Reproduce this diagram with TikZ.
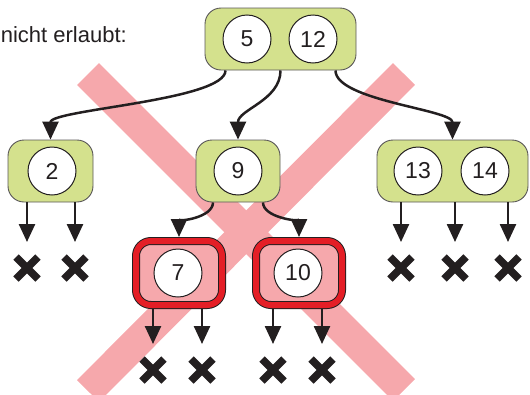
\documentclass[tikz,border=0pt]{standalone}
\usepackage{fontspec}
\setmainfont{Liberation Sans}
\usepackage{xcolor}
\usepackage{tikz}
\usetikzlibrary{
	arrows.meta,    % Pfeilspitzen (Triangle)
	shapes.misc     % fuer die Kreuze (cross out)
}

\definecolor{blattgruen}{RGB}{212,225,141}
\definecolor{kreuzrosa}{RGB}{246,168,172}
\definecolor{signalrot}{RGB}{228,30,38}
\definecolor{dunkel}{RGB}{35,31,32}

\begin{document}
\begin{tikzpicture}[x=1pt, y=-1pt, >={Triangle[length=18pt 0 0,width=16pt 0 0]},
	knoten/.style={draw=dunkel!75, line width=0.9pt, fill=blattgruen, rounded corners=16pt, inner sep=0pt, minimum height=62pt},
	rotknoten/.style={draw=dunkel, line width=1pt, double=signalrot, double distance=6pt, fill=kreuzrosa, rounded corners=15pt, inner sep=0pt, outer sep=4pt, minimum width=86pt, minimum height=64pt},
	kreis/.style={circle, draw=dunkel, line width=1pt, fill=white, text=dunkel, minimum size=48pt, inner sep=0pt, font=\fontsize{23}{27}\selectfont},
	pfeil/.style={->, line width=2.5pt, draw=dunkel},
	leer/.style={cross out, draw=dunkel, line width=7.5pt, minimum size=22pt, inner sep=0pt, outer sep=0pt},
	verbot/.style={line width=31pt, draw=kreuzrosa}]
		\useasboundingbox (0,0) rectangle (530,394);
		
		% --- Grosses Kreuz im Hintergrund ---
		\coordinate (kreuzA) at (88,74);
		\coordinate (kreuzB) at (404,390);
		\coordinate (kreuzC) at (404,74);
		\coordinate (kreuzD) at (88,391);
		\draw[verbot] (kreuzA) -- (kreuzB);
		\draw[verbot] (kreuzC) -- (kreuzD);
		
		% --- Beschriftung ---
		\node[anchor=base east, inner sep=0pt, text=dunkel, font=\fontsize{22}{26}\selectfont] (hinweis) at (127,42) {nicht erlaubt:};
		
		% --- Knoten ---
		% Wurzel mit zwei Schluesseln
		\node[knoten, minimum width=151pt] (wurzel) at (280.5,39) {};
		\node[kreis] (k5) at (247,39) {5};
		\node[kreis] (k12) at (313,39) {12};
		% Zweite Ebene
		\node[knoten, minimum width=85pt] (links) at (50.5,171) {};
		\node[kreis] (k2) at (52,171) {2};
		\node[knoten, minimum width=84pt] (mitte) at (238,171) {};
		\node[kreis] (k9) at (238,171) {9};
		\node[knoten, minimum width=151pt] (rechts) at (452.5,171) {};
		\node[kreis] (k13) at (418,171) {13};
		\node[kreis] (k14) at (485,171) {14};
		% Dritte Ebene (rot markiert)
		\node[rotknoten] (rot7) at (179,273) {};
		\node[kreis] (k7) at (178,273) {7};
		\node[rotknoten] (rot10) at (299,273) {};
		\node[kreis] (k10) at (298,273) {10};
		
		% --- Leere Blaetter ---
		\foreach \name/\x/\y in {l1/27/268, l2/75/268, r1/401/268, r2/455/268, r3/508/268,
			a1/153/370, a2/202/370, b1/273/370, b2/322/370}
			\node[leer] (\name) at (\x,\y) {};
		
		% --- Verbindungen ---
		\draw[pfeil] ([xshift=-55pt]wurzel.south) .. controls +(0,30) and +(0,-30) .. (links.north);
		\draw[pfeil] (wurzel.south) .. controls +(0,30) and +(0,-30) .. (mitte.north);
		\draw[pfeil] ([xshift=55pt]wurzel.south) .. controls +(0,30) and +(0,-30) .. (rechts.north);
		\draw[pfeil] ([xshift=-25pt]mitte.south) .. controls +(0,15) and +(0,-15) .. (rot7.north);
		\draw[pfeil] ([xshift=25pt]mitte.south) .. controls +(0,15) and +(0,-15) .. (rot10.north);
		
		% Pfeile zu den leeren Blaettern
		\foreach \name/\von in {l1/links, l2/links, r1/rechts, r2/rechts, r3/rechts,
			a1/rot7, a2/rot7, b1/rot10, b2/rot10}
			\draw[pfeil, shorten >=15pt] (\name |- \von.south) -- (\name.north);
	\end{tikzpicture}
\end{document}
